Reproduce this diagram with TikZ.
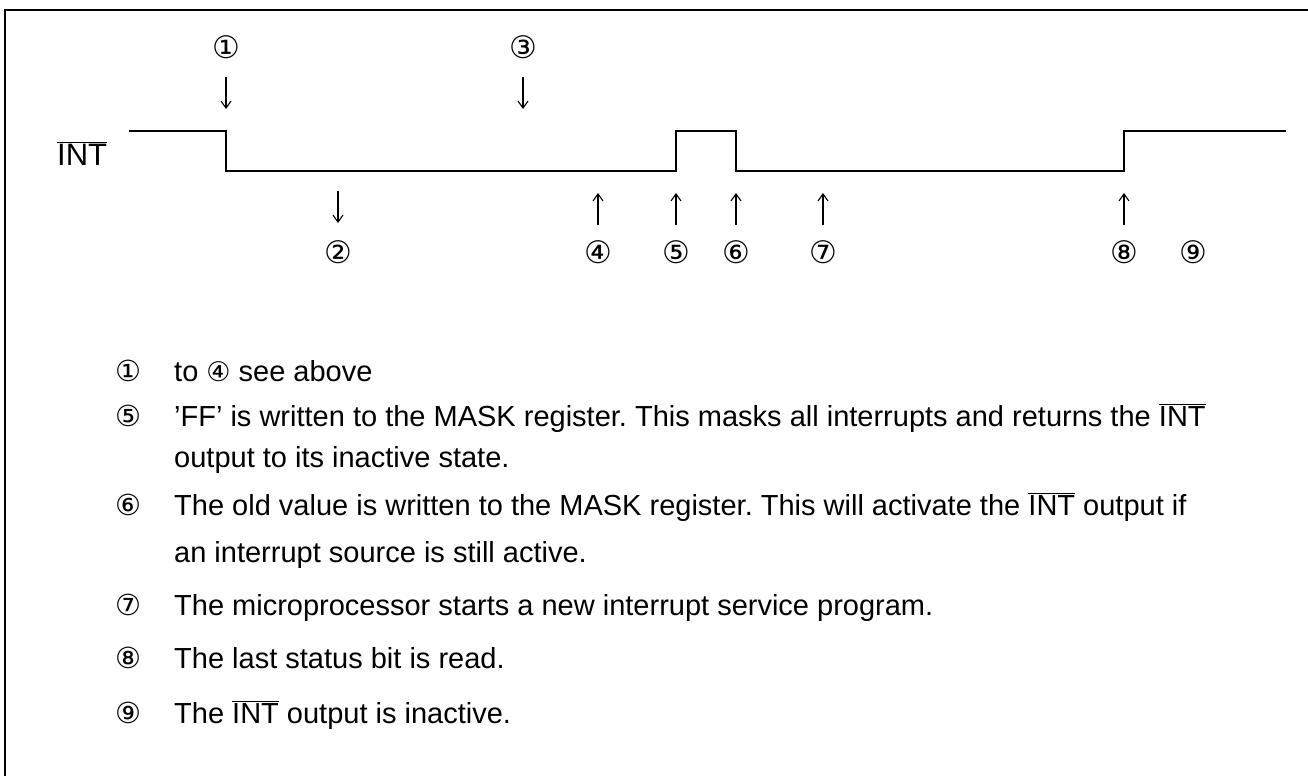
\documentclass[tikz,border=0pt]{standalone}
\usepackage{fontspec}
\setmainfont{Liberation Sans}
\newfontfamily\cf{DejaVu Sans}
\usetikzlibrary{arrows.meta}
\newcommand\ovl[1]{$\overline{\hbox{#1}}$}
\begin{document}
\frenchspacing
\begin{tikzpicture}[x=1pt,y=-1pt,
  frameline/.style={line width=1.6pt},
  sig/.style={line width=2.4pt},
  ptr/.style={line width=1.3pt,-{Straight Barb[length=7pt,width=10pt,line width=1.1pt]}},
  num/.style={font=\cf\fontsize{31}{34}\selectfont,inner sep=0pt},
  lnum/.style={font=\cf\fontsize{29}{32}\selectfont,inner sep=0pt,anchor=base},
  body/.style={font=\fontsize{29}{34}\selectfont,anchor=base west,inner sep=0pt},
  siglabel/.style={font=\fontsize{31}{36}\selectfont,anchor=base west,inner sep=0pt}]
\useasboundingbox (0,0) rectangle (1308,776);
% frame (top and left)
\coordinate (fa) at (1308,10);
\coordinate (fb) at (5,10);
\coordinate (fc) at (5,776);
\draw[frameline] (fa) -- (fb) -- (fc);
% signal
\node[siglabel] (int) at (57,165) {\ovl{INT}};
\coordinate (s0) at (129,131);
\coordinate (s1) at (226,131);
\coordinate (s2) at (226,171);
\coordinate (s3) at (676,171);
\coordinate (s4) at (676,131);
\coordinate (s5) at (736,131);
\coordinate (s6) at (736,171);
\coordinate (s7) at (1124,171);
\coordinate (s8) at (1124,131);
\coordinate (s9) at (1286,131);
\draw[sig] (s0) -- (s1) -- (s2) -- (s3) -- (s4) -- (s5) -- (s6) -- (s7) -- (s8) -- (s9);
% top labels with down arrows
\node[num] (n1) at (226,47) {①};
\node[num] (n3) at (523,47) {③};
\coordinate (a1s) at (226,77); \coordinate (a1e) at (226,109);
\coordinate (a3s) at (523,77); \coordinate (a3e) at (523,109);
\draw[ptr] (a1s) -- (a1e);
\draw[ptr] (a3s) -- (a3e);
% bottom labels
\node[num] (n2) at (338,252) {②};
\node[num] (n4) at (598,252) {④};
\node[num] (n5) at (676,252) {⑤};
\node[num] (n6) at (736,252) {⑥};
\node[num] (n7) at (823,252) {⑦};
\node[num] (n8) at (1124,252) {⑧};
\node[num] (n9) at (1193,252) {⑨};
\coordinate (a2s) at (338,191); \coordinate (a2e) at (338,223);
\draw[ptr] (a2s) -- (a2e);
\foreach \x/\n in {598/4,676/5,736/6,823/7,1124/8}{
  \coordinate (b\n s) at (\x,225); \coordinate (b\n e) at (\x,193);
  \draw[ptr] (b\n s) -- (b\n e);
}
% list
\node[lnum] (c1) at (128,381) {①};
\node[body] (t1) at (174,381) {to {\cf\fontsize{27}{30}\selectfont ④} see above};
\node[lnum] (c5) at (128,426) {⑤};
\node[body] (t5a) at (174,426) {'FF' is written to the MASK register. This masks all interrupts and returns the \ovl{INT}};
\node[body] (t5b) at (174,467) {output to its inactive state.};
\node[lnum] (c6) at (128,515) {⑥};
\node[body] (t6a) at (174,515) {The old value is written to the MASK register. This will activate the \ovl{INT} output if};
\node[body] (t6b) at (174,562) {an interrupt source is still active.};
\node[lnum] (c7) at (128,615) {⑦};
\node[body] (t7) at (174,615) {The microprocessor starts a new interrupt service program.};
\node[lnum] (c8) at (128,668) {⑧};
\node[body] (t8) at (174,668) {The last status bit is read.};
\node[lnum] (c9) at (128,723) {⑨};
\node[body] (t9) at (174,723) {The \ovl{INT} output is inactive.};
\end{tikzpicture}
\end{document}
